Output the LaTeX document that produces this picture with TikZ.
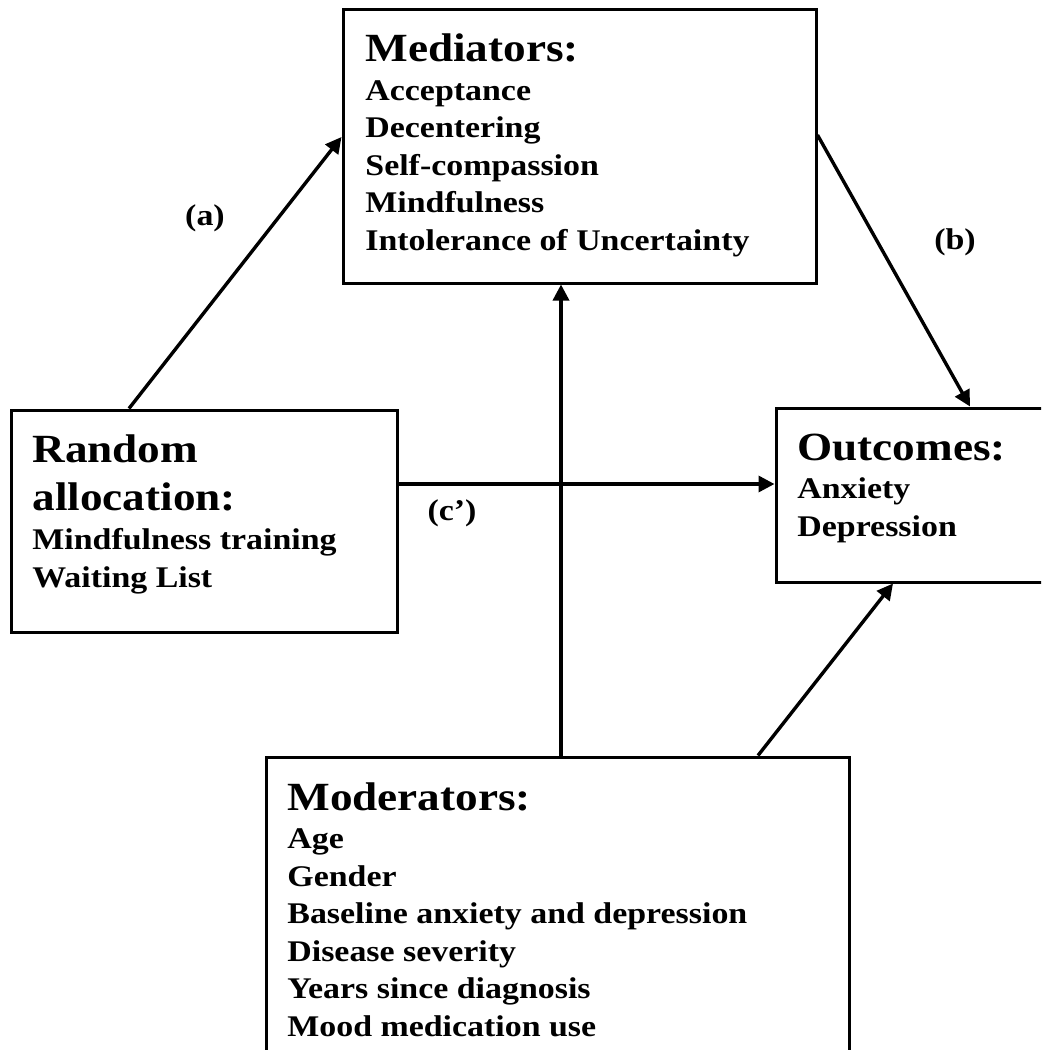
\documentclass[tikz,border=0pt]{standalone}
\usepackage{fontspec}
\usepackage{tikz}
\usetikzlibrary{arrows.meta}
\newfontfamily\diagfont{Liberation Serif}[FakeStretch=1.13]
\newcommand{\bodyfont}{\diagfont\bfseries\fontsize{15}{18.75pt}\selectfont}
\newcommand{\headfont}{\diagfont\bfseries\fontsize{20}{24pt}\selectfont}

\begin{document}
\begin{tikzpicture}[x=0.5pt,y=-0.5pt]
  \tikzstyle{box}=[draw,line width=1.5pt,inner sep=0pt]
  \tikzstyle{boxtext}=[anchor=base west,inner sep=0pt,align=left,font=\bodyfont]
  \tikzstyle{pathlabel}=[inner sep=0pt,font=\bodyfont]
  \tikzstyle{link}=[line width=1.7pt,-{Triangle[length=8pt,width=8pt]}]
  \path [use as bounding box,clip] (0,0) rectangle (1041,1050);
  \node [box,minimum width=236.5pt,minimum height=137pt] (med) at (579.5,146) {};
  \node [box,minimum width=193pt,minimum height=111pt] (rand) at (204,521) {};
  \node [box,minimum width=142pt,minimum height=87pt] (out) at (918,495) {};
  \node [box,minimum width=291.5pt,minimum height=161.5pt] (mod) at (557.5,918.5) {};
  % base anchor = last line
  \node [boxtext] (medtxt) at (365,250) {{\headfont Mediators:}\\[0.5pt]Acceptance\\Decentering\\Self-compassion\\Mindfulness\\Intolerance of Uncertainty};
  \node [boxtext] (randtxt) at (32,587) {{\headfont Random}\\[5.25pt]{\headfont allocation:}\\[1pt]Mindfulness training\\Waiting List};
  \node [boxtext] (outtxt) at (797,536) {{\headfont Outcomes:}\\[0.5pt]Anxiety\\Depression};
  \node [boxtext] (modtxt) at (287,1036) {{\headfont Moderators:}\\[0.5pt]Age\\Gender\\Baseline anxiety and depression\\Disease severity\\Years since diagnosis\\Mood medication use};
  \node [pathlabel] (laba) at (205,218) {(a)};
  \node [pathlabel] (labb) at (955,242) {(b)};
  \node [pathlabel] (labc) at (452,513) {(c’)};
  \draw [link] ([xshift=-37.5pt]rand.north) -- ([yshift=4.5pt]med.west);
  \draw [link] ([yshift=5.5pt]med.east) -- ([xshift=26pt]out.north);
  \draw [link] ([yshift=18.5pt]rand.east) -- ([yshift=5.5pt]out.west);
  \draw [link] ([xshift=1.75pt]mod.north) -- ([xshift=-9.25pt]med.south);
  \draw [link] ([xshift=100.25pt]mod.north) -- ([xshift=-12.5pt]out.south);
\end{tikzpicture}
\end{document}
